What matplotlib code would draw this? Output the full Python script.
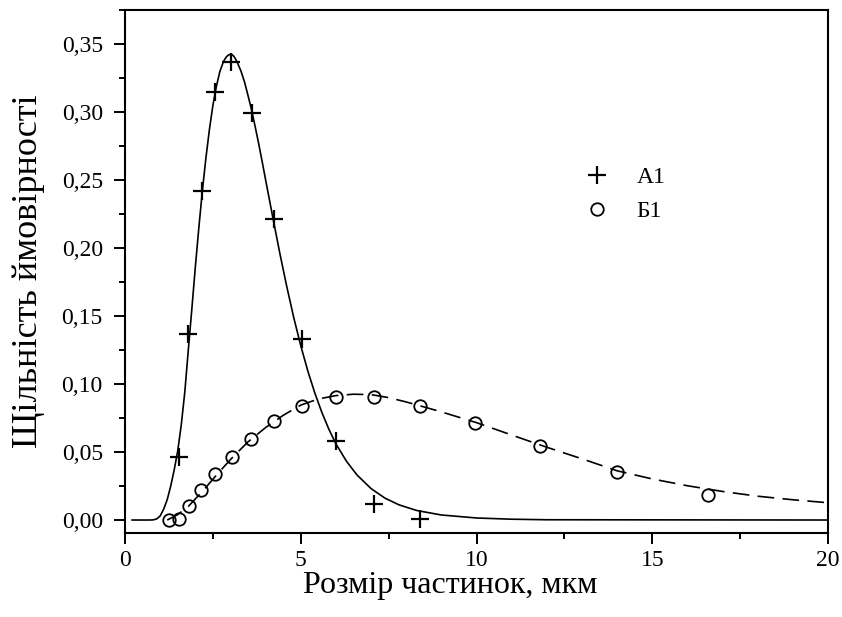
import numpy as np
import matplotlib
matplotlib.use("Agg")
import matplotlib.pyplot as plt
from matplotlib.ticker import MultipleLocator, FuncFormatter

plt.rcParams['font.family'] = ['Liberation Serif', 'DejaVu Serif']

# виміряні точки (А1 - хрестики, Б1 - кола)
a1_x = [1.53, 1.80, 2.18, 2.56, 3.01, 3.60, 4.24, 5.03, 5.99, 7.08, 8.39]
a1_y = [0.0466, 0.1365, 0.242, 0.315, 0.3365, 0.299, 0.221, 0.133, 0.058, 0.0118, 0.0005]

b1_x = [1.26, 1.54, 1.81, 2.17, 2.56, 3.05, 3.58, 4.24, 5.04, 5.99, 7.08, 8.39,
        9.97, 11.81, 14.0, 16.59]
b1_y = [0.0, 0.001, 0.0103, 0.022, 0.0338, 0.0466, 0.0596, 0.0726, 0.0838, 0.0907,
        0.0907, 0.084, 0.0716, 0.0547, 0.0353, 0.0184]

# апроксимуючі криві
fit_a1_x = [0.2, 0.7, 0.8, 0.9, 1.0, 1.1, 1.2, 1.3, 1.4, 1.5, 1.6, 1.7, 1.8, 1.9,
            2.0, 2.1, 2.2, 2.3, 2.4, 2.5, 2.6, 2.7, 2.8, 2.85, 2.9, 2.95, 3.0,
            3.05, 3.1, 3.15, 3.2, 3.3, 3.4, 3.5, 3.6, 3.7, 3.8, 3.9, 4.0, 4.2,
            4.4, 4.6, 4.8, 5.0, 5.2, 5.4, 5.6, 5.8, 6.0, 6.3, 6.6, 7.0, 7.4, 7.8,
            8.3, 9.0, 10.0, 11.0, 12.0, 20.0]
fit_a1_y = [0.0, 0.0, 0.0001, 0.0008, 0.003, 0.008, 0.015, 0.025, 0.037, 0.051,
            0.070, 0.094, 0.125, 0.155, 0.186, 0.215, 0.242, 0.266, 0.287, 0.305,
            0.319, 0.330, 0.337, 0.3393, 0.341, 0.342, 0.3425, 0.3421, 0.3408,
            0.3387, 0.336, 0.330, 0.322, 0.312, 0.3015, 0.2895, 0.277, 0.2637,
            0.250, 0.223, 0.1966, 0.1718, 0.1488, 0.1281, 0.1096, 0.0933, 0.0791,
            0.0667, 0.056, 0.0432, 0.0331, 0.0231, 0.016, 0.0111, 0.007, 0.0037,
            0.0015, 0.0006, 0.0002, 0.0]

fit_b1_x = [1.2, 1.5, 1.8, 2.2, 2.6, 3.0, 3.5, 4.0, 4.5, 5.0, 5.5, 6.0, 6.5, 7.0,
            7.5, 8.0, 8.5, 9.0, 10.0, 11.0, 12.0, 13.0, 14.0, 15.0, 16.0, 17.0,
            18.0, 19.0, 20.0]
fit_b1_y = [0.0, 0.004, 0.010, 0.021, 0.033, 0.0445, 0.0575, 0.068, 0.077, 0.0845,
            0.089, 0.0915, 0.0925, 0.0922, 0.090, 0.0868, 0.0832, 0.0795, 0.0716,
            0.0625, 0.0535, 0.045, 0.0362, 0.0302, 0.0252, 0.0210, 0.0175, 0.0149,
            0.0127]

fig = plt.figure(figsize=(8.42, 6.17), dpi=100)
ax = fig.add_axes([0.1485, 0.1361, 0.8349, 0.8477])

ax.plot(fit_a1_x, fit_a1_y, color='black', lw=1.2, zorder=2)
ax.plot(fit_b1_x, fit_b1_y, color='black', lw=1.2, ls=(0, (10, 5)), zorder=2)

ax.plot(a1_x, a1_y, ls='none', marker='+', ms=13, mew=1.6, color='black',
        label='A1', zorder=3)
ax.plot(b1_x, b1_y, ls='none', marker='o', ms=9, mew=1.3, mfc='none',
        mec='black', label='Б1', zorder=3)

ax.set_xlim(0, 20)
ax.set_ylim(-0.00956, 0.375)

ax.xaxis.set_major_locator(MultipleLocator(5))
ax.xaxis.set_minor_locator(MultipleLocator(2.5))
ax.yaxis.set_major_locator(MultipleLocator(0.05))
ax.yaxis.set_minor_locator(MultipleLocator(0.025))
ax.yaxis.set_major_formatter(FuncFormatter(lambda v, p: f"{v:.2f}".replace('.', ',')))
ax.xaxis.set_major_formatter(FuncFormatter(lambda v, p: f"{v:.0f}"))

ax.tick_params(which='both', direction='out', width=1.4, labelsize=17)
ax.tick_params(axis='x', pad=4)
ax.tick_params(axis='y', pad=8)
ax.tick_params(which='major', length=8)
ax.tick_params(which='minor', length=4.5)
for s in ax.spines.values():
    s.set_linewidth(1.5)

ax.set_xlabel('Розмір частинок, мкм', fontsize=23)
ax.set_ylabel('Щільність ймовірності', fontsize=26, labelpad=12)
ax.xaxis.set_label_coords(0.4625, -0.073)

ax.legend(loc='upper left', bbox_to_anchor=(0.6215, 0.741), frameon=False,
          fontsize=17, handlelength=1.2, handletextpad=1.05, labelspacing=0.52)

fig.savefig('out.png', dpi=100)
